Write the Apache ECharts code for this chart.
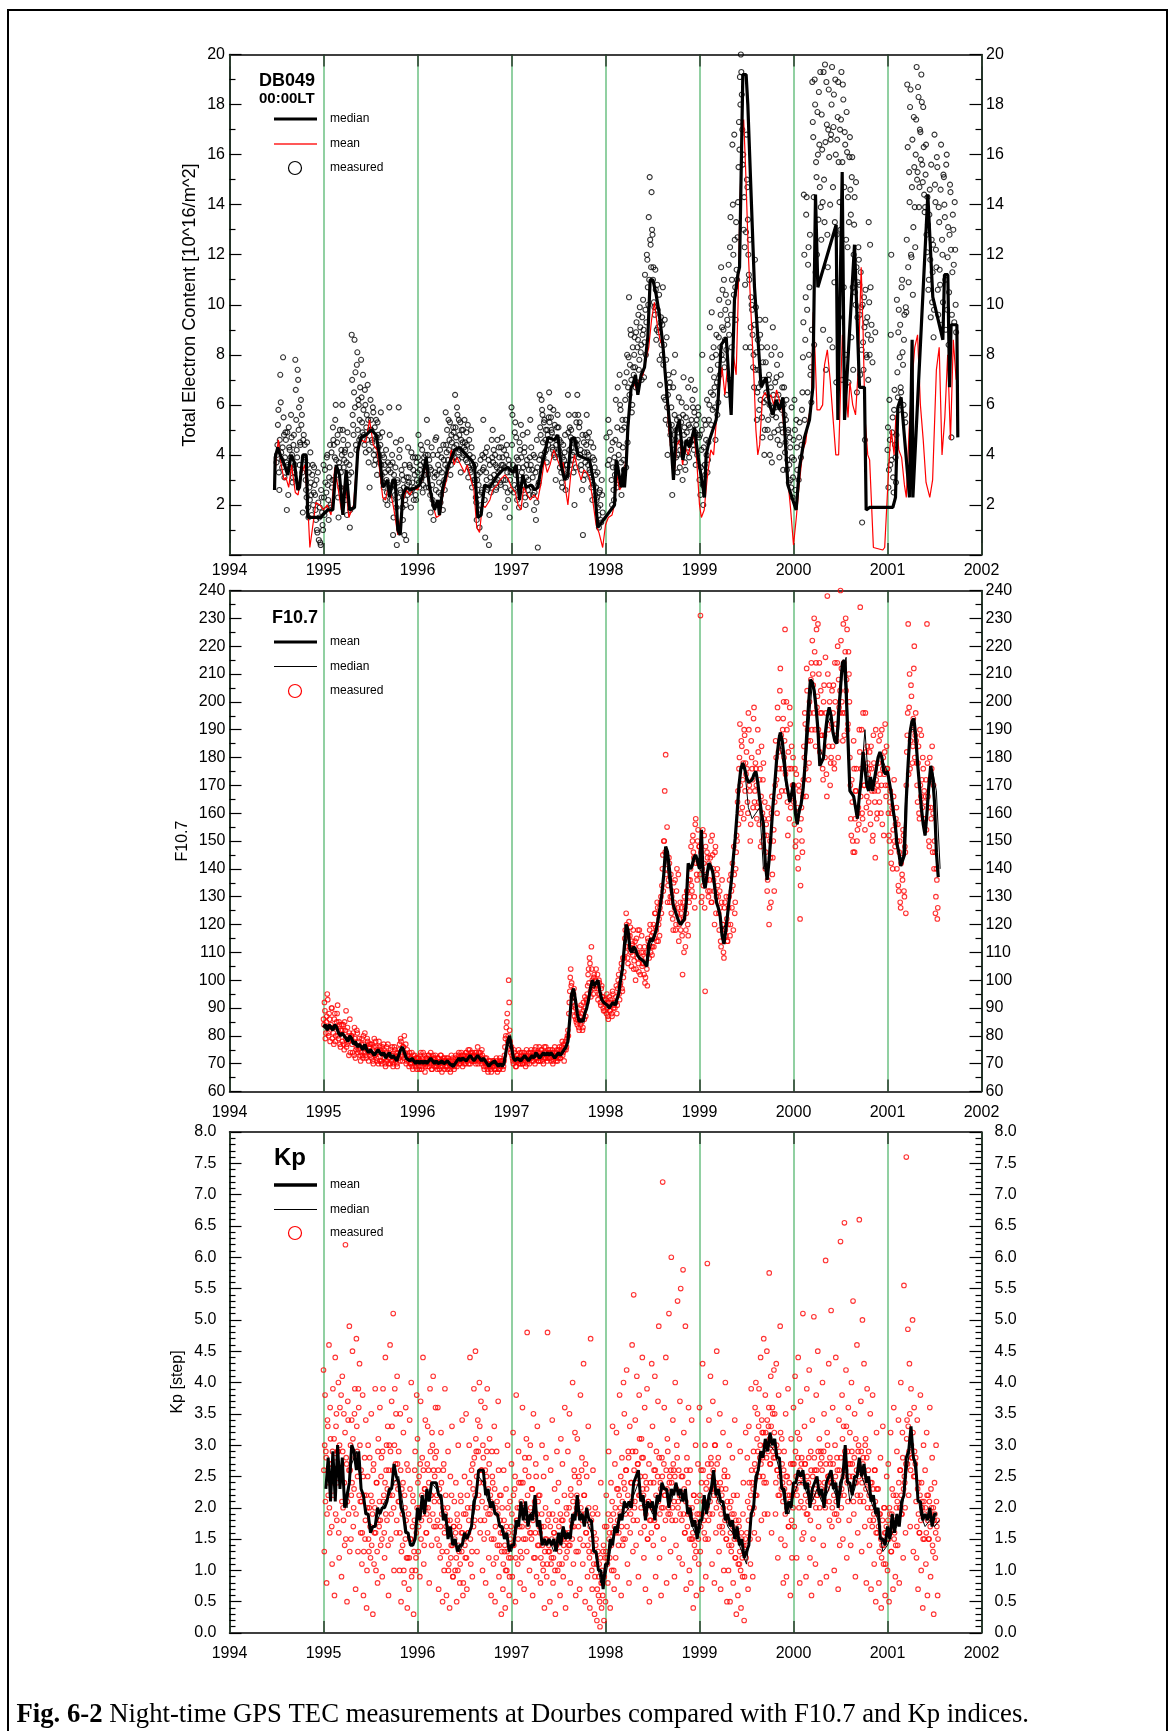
<!DOCTYPE html>
<html>
<head>
<meta charset="utf-8">
<title>Night-time GPS TEC at Dourbes, F10.7 and Kp</title>
<script src="https://cdn.jsdelivr.net/npm/echarts/dist/echarts.min.js"></script>
<style>
  html, body { margin: 0; padding: 0; background: #fff; }
  #chart { width: 1172px; height: 1731px; }
</style>
</head>
<body>
<div id="chart"></div>
<script>
// ---------- tick labels ----------
const yearTicks = [1994, 1995, 1996, 1997, 1998, 1999, 2000, 2001, 2002];
const tecTicks = [0, 20, 2];      // min, max, step
const f107Ticks = [60, 240, 10];
const kpTicks = [0, 8, 0.5];

// ---------- TEC (DB049, 00:00 LT), nightly values, 0.01 yr apart from 1994.5 ----------
const tecStart = 1994.5, tecStep = 0.01;
const tecMeasured = [
  3.7,4.4,5.8,2.6,7.2,4.1,3.5,7.9,4.8,3.9, 4.6,1.8,3.6,5.1,4.2,3.9,4.7,2.9,4.4,3.3,
  7.8,5.4,3.9,7.0,5.9,4.5,6.2,5.6,1.7,4.8, 4.4,3.0,2.3,3.6,1.5,2.7,4.1,2.4,3.2,2.0,
  3.5,2.4,1.4,1.0,3.3,0.6,1.9,0.4,2.3,1.2,
  3.6,1.6,2.9,2.5,4.0,2.2,3.1,4.4,1.9,2.7, 5.1,4.4,3.9,6.0,3.2,4.8,1.5,3.5,2.7,4.2,
  6.0,4.6,3.8,4.2,2.7,1.6,4.4,3.2,1.1,4.0, 8.8,5.6,4.8,8.6,7.3,4.2,8.1,6.2,4.6,6.7,
  7.8,5.3,7.2,4.8,6.6,4.1,5.6,6.8,3.7,2.7, 6.2,5.0,4.5,5.7,3.6,4.2,5.4,3.2,4.8,4.0,
  4.7,5.7,3.2,4.0,2.7,3.6,2.2,3.0,2.0,3.4, 5.9,3.6,2.7,4.0,0.8,3.2,2.4,4.5,0.4,2.9,
  5.9,4.2,2.5,3.4,1.9,3.0,0.8,2.2,0.6,2.8, 4.3,2.9,3.5,1.9,2.6,3.9,2.2,3.2,2.4,3.7,
  3.3,4.8,2.7,3.6,3.0,4.2,2.8,3.9,3.4,2.7, 5.4,4.0,2.7,3.5,1.7,4.3,2.2,1.4,3.1,4.6,
  4.7,2.0,3.6,2.9,4.2,2.4,3.3,1.8,3.8,2.6, 5.7,4.1,3.5,5.4,4.6,3.2,4.8,3.8,5.1,4.3,
  6.4,4.7,5.9,3.8,5.4,4.2,3.3,5.0,4.5,4.0, 5.4,4.2,4.9,3.7,3.1,4.6,3.4,5.0,2.7,3.9,
  3.5,3.0,2.3,1.4,3.2,2.8,1.1,3.8,2.5,4.0, 5.4,3.9,0.7,3.3,4.3,2.7,0.4,3.6,2.5,4.6,
  5.0,4.2,3.0,3.6,2.7,4.6,3.3,3.9,2.9,4.3, 4.7,3.6,4.2,1.9,3.0,4.4,2.5,3.8,1.5,3.3,
  5.9,5.6,3.4,2.8,5.3,4.7,2.2,3.8,1.9,4.2, 5.2,3.3,4.8,2.6,4.3,2.0,3.6,4.9,3.0,2.4,
  5.4,4.3,3.4,2.4,1.8,3.9,1.4,4.6,0.3,2.9, 6.4,4.8,6.2,5.6,3.9,5.4,4.6,4.2,5.0,4.4,
  6.5,5.9,5.5,4.9,4.2,4.0,5.2,3.0,4.6,5.6, 5.1,4.6,4.0,3.3,2.7,4.4,3.8,4.8,3.1,3.6,
  6.4,5.6,5.1,4.7,4.3,4.0,3.3,2.0,4.5,5.3, 6.4,5.6,5.1,4.0,3.6,2.6,0.8,4.5,3.2,4.8,
  5.6,4.7,4.0,3.4,3.1,2.7,2.2,4.3,3.8,2.4, 2.7,2.3,1.9,1.1,2.6,1.4,3.0,1.7,null,null,
  null,4.7,null,5.4,3.8,null,4.2,2.0,3.5,2.2, 3.2,6.2,2.7,6.7,4.0,7.2,5.8,2.4,5.4,3.8,
  5.1,6.2,3.5,8.0,6.7,10.3,7.6,8.8,5.7,8.3, 7.2,8.7,6.7,9.3,8.3,9.6,7.8,9.1,8.4,9.5,
  10.2,7.1,11.2,8.0,12.0,10.7,13.5,15.1,12.4,14.5, 12.8,11.5,9.9,11.4,8.6,10.8,9.1,10.4,6.8,9.5,
  8.0,10.7,6.3,9.4,5.4,8.7,4.0,7.2,6.7,4.8, 5.9,2.4,6.7,4.8,8.0,3.9,5.4,4.0,6.3,3.5,
  4.5,6.1,3.0,7.1,5.1,3.4,5.9,4.5,6.7,3.9, 5.1,7.0,4.6,5.9,4.2,6.6,3.6,5.4,4.8,5.6,
  3.0,2.4,4.2,8.0,2.0,5.4,3.2,4.6,6.2,3.8, 5.4,9.1,6.5,9.7,5.8,8.3,6.7,4.6,8.8,5.6,
  6.1,10.2,8.3,11.5,9.1,7.8,11.0,8.6,10.4,6.4, 9.2,11.6,7.0,13.5,8.3,16.4,12.0,16.8,10.7,13.3,
  11.0,14.1,17.3,19.1,20.0,18.4,15.6,13.0,12.3,8.3, 16.8,14.7,12.0,11.0,8.3,10.3,9.8,7.5,6.7,11.8,
  9.9,5.4,8.6,6.7,9.4,6.2,8.3,4.7,7.0,4.0, 9.4,6.5,8.3,5.4,7.2,4.0,6.7,3.7,9.1,5.9,
  8.3,5.9,7.1,4.6,6.4,3.9,8.0,5.2,6.7,3.4, 6.7,4.1,5.4,3.4,4.9,2.9,4.7,3.0,5.9,2.3,
  4.6,6.2,2.6,5.4,3.4,null,4.7,null,3.9,5.8, 7.9,14.4,5.4,10.3,14.3,6.5,12.3,10.7,7.2,6.1,
  18.9,16.7,8.4,18.0,15.7,12.0,16.0,18.5,14.7,13.9, 17.6,14.1,19.3,13.3,16.5,18.9,12.8,17.0,15.9,14.0,
  16.8,19.5,14.7,18.4,13.3,16.0,12.8,17.5,15.7,14.1, 13.0,19.3,15.7,18.2,14.7,16.4,12.6,16.1,14.3,13.3,
  16.7,13.6,15.1,10.7,12.0,14.3,10.0,11.5,9.5,12.3, 10.8,7.2,9.9,1.3,8.5,10.3,4.6,9.3,7.9,8.8,
  13.3,8.0,10.7,9.2,7.7,null,null,8.9,null,null, null,null,null,null,null,null,null,null,null,null,
  4.2,2.7,6.2,3.6,12.0,4.9,3.1,5.8,4.4,2.9, 10.2,6.3,9.8,7.9,6.7,10.7,8.1,6.0,9.6,5.3,
  9.7,18.8,11.5,15.3,17.9,12.0,14.7,10.4,17.5,13.9, 16.0,19.5,15.3,18.3,14.7,16.9,19.2,15.6,17.9,14.4,
  13.9,16.4,12.1,13.2,11.0,14.6,9.5,12.6,11.3,8.7, 16.8,14.1,11.5,15.5,9.6,13.3,10.8,16.4,12.6,10.1,
  15.1,13.5,9.0,16.0,11.9,8.4,12.8,14.5,4.7,11.3, 13.0,9.3,12.2,8.9
];
// nights in between (offset by half a step)
const tecMeasuredB = [
  4.0,5.2,3.3,4.6,6.1,3.8,4.3,5.5,3.1,4.9, 3.7,4.9,2.4,4.3,3.5,5.6,4.0,3.1,4.8,3.6,
  6.6,4.2,7.4,5.0,3.6,4.4,5.2,3.3,4.6,3.9, 3.8,2.6,4.5,1.9,3.3,2.2,2.9,1.6,3.6,2.5,
  2.8,1.8,3.0,0.9,2.1,1.5,0.5,2.6,1.7,1.0,
  2.3,3.4,1.8,3.9,2.8,1.4,3.5,2.0,4.1,3.0, 4.6,3.0,5.4,3.8,4.5,2.3,3.7,5.0,3.3,4.0,
  5.0,3.5,4.1,2.2,3.7,4.9,2.9,3.6,1.8,3.3, 7.0,5.2,6.5,5.9,4.4,7.6,5.0,6.0,5.4,4.7,
  6.3,4.9,5.8,4.4,6.0,5.1,4.6,5.4,4.2,5.0, 5.4,4.6,5.9,4.0,5.1,3.8,4.7,5.3,4.3,3.7,
  4.4,3.6,4.9,2.9,3.9,3.3,4.2,2.5,3.7,2.8, 4.8,3.3,2.2,3.7,1.5,2.8,3.5,1.9,3.0,2.3,
  3.9,2.6,4.6,3.2,1.4,2.7,3.6,2.0,3.1,2.4, 3.1,3.6,2.5,4.1,2.9,3.4,2.7,3.9,2.2,3.0,
  3.9,2.9,3.4,4.4,3.1,2.5,3.7,3.2,4.0,3.5, 4.5,3.2,3.8,2.4,3.4,2.8,4.0,2.0,3.3,2.6,
  3.2,4.0,2.5,3.4,2.1,3.9,2.8,4.4,3.0,3.6, 4.4,5.0,3.8,4.2,5.3,3.6,4.5,4.0,4.9,3.9,
  5.1,4.4,5.6,4.1,4.8,5.3,4.6,3.9,5.0,4.3, 4.5,3.8,4.4,5.2,3.5,4.0,3.3,4.3,3.6,3.0,
  2.9,3.6,2.1,3.0,1.8,2.4,3.3,2.0,2.6,3.4, 3.5,2.2,4.1,3.0,2.6,3.8,1.6,3.1,2.8,3.9,
  3.7,3.2,4.0,2.6,3.5,3.0,4.3,3.4,2.8,3.6, 3.9,3.0,3.5,2.7,4.0,3.3,2.2,3.6,3.0,2.6,
  4.4,3.6,2.5,4.9,3.2,3.9,2.7,3.5,4.5,3.0, 3.9,2.8,3.5,4.1,2.3,3.1,3.8,2.6,3.4,3.9,
  3.6,2.7,3.1,4.0,2.5,3.3,2.1,3.5,2.8,3.8, 5.1,4.0,5.8,4.5,5.3,4.1,5.0,3.7,4.8,5.5,
  5.3,4.6,5.0,4.3,5.8,4.7,3.9,4.4,5.1,4.1, 4.2,3.5,4.5,2.9,3.9,3.4,4.1,2.6,3.6,3.2,
  4.9,4.2,3.6,5.0,4.6,3.8,4.1,5.6,3.5,4.4, 4.6,3.9,5.3,4.2,3.4,4.8,3.0,4.1,3.7,4.4,
  4.1,3.6,4.9,3.3,4.5,3.0,3.9,2.8,3.5,3.2, 2.2,3.3,1.6,2.5,2.0,1.3,2.4,null,null,null,
  null,null,3.6,null,4.9,null,3.0,4.5,2.6,3.9, 4.6,3.5,5.1,3.0,4.4,6.0,3.7,5.0,4.3,3.4,
  6.9,5.4,7.3,4.5,7.9,6.4,9.0,7.0,6.0,7.5, 8.0,7.5,8.9,6.9,8.6,7.4,9.9,8.1,7.0,8.8,
  9.0,8.5,9.8,9.3,11.8,10.0,11.0,12.6,11.5,13.0, 11.0,10.1,9.6,10.6,9.0,9.8,8.9,7.8,9.3,8.4,
  9.2,7.6,8.4,6.2,7.8,5.9,6.4,5.2,6.9,5.0, 5.2,4.4,7.3,5.6,4.6,5.0,3.3,4.9,5.5,4.2,
  5.3,4.0,5.6,4.8,3.7,5.5,4.9,4.1,5.2,4.6, 4.5,5.4,6.2,4.4,5.7,4.9,5.2,4.0,5.9,4.7,
  4.8,3.5,5.0,2.8,4.3,3.6,5.2,4.0,3.3,4.5, 6.0,7.4,5.2,7.9,6.4,7.1,5.9,8.0,6.9,7.6,
  8.7,7.2,9.6,8.0,10.6,9.0,7.5,9.8,8.2,9.4, 10.1,8.8,12.3,9.6,11.0,14.0,10.4,12.6,9.4,11.4,
  12.7,15.5,16.2,18.0,19.3,17.0,16.0,14.3,10.8,12.9, 15.0,13.4,11.2,12.6,9.1,10.0,8.8,8.0,9.2,7.4,
  8.1,6.5,7.4,5.8,8.8,6.9,5.5,7.7,6.1,5.0, 7.7,6.2,5.0,7.0,6.0,4.7,8.0,5.6,6.4,4.9,
  6.9,5.5,7.6,5.0,6.1,4.4,7.2,5.8,4.9,6.0, 5.6,4.5,6.2,3.8,5.0,3.6,4.3,2.7,3.9,3.1,
  3.8,5.0,null,4.3,null,3.0,5.3,null,4.4,6.5, 9.3,12.0,8.6,13.6,9.8,11.6,8.0,12.8,7.5,9.0,
  17.3,14.3,19.0,11.3,15.1,17.7,13.4,16.4,19.3,12.6, 16.2,9.0,15.0,19.6,7.4,17.2,11.5,18.6,8.6,16.6,
  18.0,8.3,17.1,10.9,19.0,6.9,16.6,18.9,9.5,17.0, 17.4,7.0,18.8,10.7,16.9,8.0,17.7,12.3,6.9,15.9,
  14.6,8.7,15.9,7.4,13.2,10.5,14.9,6.5,10.9,11.8, 9.6,11.3,8.2,10.0,7.4,9.1,10.6,8.0,9.5,7.0,
  10.1,12.4,8.6,null,null,null,null,null,null,null, null,null,null,null,null,null,null,null,null,null,
  5.1,3.4,4.6,8.8,3.8,5.5,2.5,6.6,3.9,4.8, 7.3,8.9,5.8,9.2,6.5,11.0,7.6,8.6,5.6,9.9,
  12.6,16.3,10.9,14.1,18.6,11.9,16.6,13.1,15.5,12.3, 17.4,15.0,18.7,13.9,17.0,15.8,18.1,14.9,16.3,13.7,
  15.2,12.8,14.3,10.6,13.6,11.8,15.6,10.1,12.4,9.8, 14.8,12.2,15.9,10.6,13.9,11.4,14.6,9.2,12.0,15.2,
  14.0,11.0,15.6,9.8,13.1,10.5,14.8,12.2,9.6,13.6, 11.6,14.1,10.0
];

// running median of TEC: [year, TECU]
const tecMedian = [
  [1994.479,2.6],[1994.486,3.9],[1994.514,4.3],[1994.55,3.9],[1994.585,3.6],[1994.62,3.2],[1994.656,4.0],[1994.69,3.7],
  [1994.727,2.6],[1994.745,2.7],[1994.78,4.0],[1994.816,4.0],[1994.833,1.5],[1994.904,1.5],[1994.975,1.5],[1994.993,1.6],
  [1995.046,1.8],[1995.099,1.8],[1995.135,3.6],[1995.17,3.2],[1995.206,1.6],[1995.241,3.4],[1995.277,1.8],[1995.33,1.9],
  [1995.365,4.2],[1995.40,4.7],[1995.454,4.8],[1995.507,5.0],[1995.56,4.8],[1995.596,4.0],[1995.631,2.7],[1995.684,3.0],
  [1995.702,2.3],[1995.738,3.0],[1995.762,3.0],[1995.791,1.0],[1995.816,0.8],[1995.844,2.4],[1995.88,2.7],[1995.933,2.6],
  [1995.986,2.7],[1996.021,2.8],[1996.057,3.2],[1996.092,3.9],[1996.128,2.7],[1996.18,1.8],[1996.216,2.2],[1996.234,1.6],
  [1996.27,2.7],[1996.323,3.5],[1996.394,4.2],[1996.447,4.3],[1996.518,4.0],[1996.571,3.8],[1996.606,3.6],[1996.642,1.5],
  [1996.677,1.6],[1996.713,2.8],[1996.766,2.7],[1996.819,3.0],[1996.855,3.2],[1996.908,3.4],[1996.961,3.5],[1997.014,3.3],
  [1997.05,3.6],[1997.085,2.2],[1997.12,3.2],[1997.156,2.7],[1997.209,2.8],[1997.245,2.6],[1997.28,2.7],[1997.316,3.5],
  [1997.351,4.0],[1997.387,4.7],[1997.457,4.6],[1997.493,4.8],[1997.528,3.6],[1997.564,3.0],[1997.599,3.2],[1997.635,4.6],
  [1997.67,4.7],[1997.706,4.0],[1997.759,3.9],[1997.83,3.8],[1997.865,3.1],[1997.883,2.7],[1997.918,1.1],[1998.096,2.0],
  [1998.113,3.8],[1998.131,3.5],[1998.167,2.7],[1998.191,3.5],[1998.202,2.7],[1998.22,3.6],[1998.238,5.1],[1998.273,6.7],
  [1998.291,6.8],[1998.319,7.2],[1998.344,6.4],[1998.379,7.2],[1998.415,7.5],[1998.45,8.7],[1998.475,11.0],[1998.504,11.0],
  [1998.539,10.4],[1998.574,9.6],[1998.61,8.4],[1998.663,6.0],[1998.688,5.0],[1998.723,3.0],[1998.752,5.0],[1998.787,5.4],
  [1998.823,3.8],[1998.858,4.6],[1998.894,4.3],[1998.947,5.1],[1998.982,4.0],[1999.053,2.3],[1999.071,4.0],[1999.106,4.6],
  [1999.177,5.4],[1999.195,6.0],[1999.23,8.4],[1999.284,8.7],[1999.337,5.6],[1999.372,10.2],[1999.408,11.2],[1999.426,11.5],
  [1999.461,19.2],[1999.496,19.2],[1999.514,18.0],[1999.55,14.3],[1999.585,10.7],[1999.656,6.7],[1999.674,6.7],[1999.709,7.1],
  [1999.745,6.0],[1999.78,5.6],[1999.816,6.2],[1999.851,5.8],[1999.887,6.3],[1999.94,2.8],[2000.028,1.8],[2000.064,3.5],
  [2000.082,3.5],[2000.117,4.7],[2000.17,5.4],[2000.206,6.7],[2000.234,14.4],[2000.259,10.7],[2000.454,13.2],[2000.472,5.4],
  [2000.518,15.3],[2000.543,5.4],[2000.649,12.4],[2000.702,6.7],[2000.755,6.7],[2000.773,1.8],[2000.809,1.9],[2001.057,1.9],
  [2001.085,2.3],[2001.11,5.9],[2001.145,6.3],[2001.234,2.3],[2001.262,8.6],[2001.27,2.3],[2001.429,14.4],[2001.482,10.3],
  [2001.589,8.6],[2001.606,11.2],[2001.642,11.2],[2001.66,6.7],[2001.677,9.2],[2001.738,9.2],[2001.748,4.7]
];

// running mean of TEC: [year, TECU]
const tecMean = [
  [1994.479,3.0],[1994.50,4.0],[1994.52,4.6],[1994.55,3.6],[1994.58,3.0],[1994.60,3.1],[1994.63,2.7],[1994.66,3.6],
  [1994.70,2.5],[1994.73,2.4],[1994.76,3.2],[1994.80,3.6],[1994.83,2.2],[1994.855,0.3],[1994.88,1.0],[1994.92,2.1],
  [1994.96,2.0],[1995.0,1.8],[1995.04,2.0],[1995.08,1.6],[1995.12,3.5],[1995.15,2.8],[1995.19,1.8],[1995.23,3.0],
  [1995.27,1.5],[1995.32,2.0],[1995.36,4.0],[1995.40,4.6],[1995.45,4.5],[1995.49,5.4],[1995.53,4.4],[1995.57,4.2],
  [1995.60,3.3],[1995.63,2.3],[1995.66,2.2],[1995.68,2.6],[1995.72,2.4],[1995.75,1.8],[1995.79,0.8],[1995.82,1.5],
  [1995.85,2.2],[1995.88,2.6],[1995.92,2.4],[1995.96,2.7],[1996.0,2.6],[1996.05,3.0],[1996.09,3.6],[1996.13,2.5],
  [1996.17,1.9],[1996.2,1.5],[1996.24,1.6],[1996.27,2.4],[1996.32,3.2],[1996.36,4.2],[1996.39,3.6],[1996.42,3.9],
  [1996.46,3.6],[1996.5,3.3],[1996.53,3.6],[1996.57,3.0],[1996.6,2.6],[1996.63,1.1],[1996.66,0.9],[1996.69,2.0],
  [1996.72,1.9],[1996.77,2.2],[1996.8,2.6],[1996.85,2.8],[1996.88,3.0],[1996.93,3.2],[1996.97,3.0],[1997.0,2.7],
  [1997.04,2.5],[1997.07,2.0],[1997.1,1.8],[1997.13,2.7],[1997.17,2.4],[1997.2,2.2],[1997.24,2.4],[1997.28,2.2],
  [1997.32,3.0],[1997.35,3.8],[1997.38,3.3],[1997.41,3.6],[1997.45,4.2],[1997.48,3.9],[1997.52,3.5],[1997.55,3.7],
  [1997.58,2.5],[1997.6,2.0],[1997.63,3.2],[1997.67,4.0],[1997.7,3.5],[1997.74,3.0],[1997.77,3.4],[1997.8,3.3],
  [1997.83,3.1],[1997.86,2.3],[1997.9,1.2],[1997.93,0.9],[1997.97,0.3],[1998.0,1.2],[1998.03,1.5],[1998.07,1.6],
  [1998.1,2.1],[1998.12,3.2],[1998.15,2.6],[1998.18,2.8],[1998.21,3.6],[1998.24,5.0],[1998.27,6.6],[1998.3,6.9],
  [1998.33,6.6],[1998.36,7.0],[1998.4,7.2],[1998.43,7.8],[1998.46,8.3],[1998.49,9.4],[1998.52,10.1],[1998.55,9.2],
  [1998.58,8.6],[1998.61,8.3],[1998.64,7.0],[1998.67,5.2],[1998.7,4.0],[1998.73,3.2],[1998.76,4.4],[1998.79,4.6],
  [1998.82,3.6],[1998.85,4.3],[1998.88,4.0],[1998.91,4.5],[1998.94,4.8],[1998.97,3.8],[1999.0,2.0],[1999.02,1.5],
  [1999.05,1.8],[1999.08,3.0],[1999.12,4.2],[1999.15,4.0],[1999.18,5.4],[1999.21,6.6],[1999.24,7.5],[1999.27,6.4],
  [1999.3,7.6],[1999.33,6.2],[1999.36,8.0],[1999.39,7.2],[1999.41,10.0],[1999.43,14.0],[1999.45,16.5],[1999.47,17.4],
  [1999.49,15.5],[1999.52,12.0],[1999.55,9.5],[1999.58,7.0],[1999.6,5.0],[1999.62,4.0],[1999.64,4.4],[1999.67,6.3],
  [1999.7,6.5],[1999.73,6.2],[1999.76,6.4],[1999.79,6.0],[1999.82,6.6],[1999.85,6.2],[1999.88,5.8],[1999.91,4.5],
  [1999.94,3.0],[1999.97,1.8],[2000.0,0.4],[2000.03,1.5],[2000.06,2.8],[2000.08,3.5],[2000.1,4.2],[2000.13,4.5],
  [2000.16,5.5],[2000.19,6.0],[2000.21,9.7],[2000.23,8.0],[2000.25,5.8],[2000.28,5.8],[2000.31,6.0],[2000.33,7.6],
  [2000.36,8.2],[2000.39,7.0],[2000.42,5.5],[2000.45,4.0],[2000.48,4.0],[2000.5,6.5],[2000.52,8.8],[2000.55,7.0],
  [2000.58,5.5],[2000.6,6.9],[2000.63,6.0],[2000.66,5.6],[2000.69,7.5],[2000.72,11.5],[2000.74,9.0],[2000.76,5.5],
  [2000.79,4.0],[2000.81,3.8],[2000.83,3.8],[2000.85,0.3],[2000.95,0.2],[2000.97,0.3],[2001.02,4.0],[2001.04,5.0],
  [2001.07,4.0],[2001.09,5.6],[2001.12,4.2],[2001.15,3.9],[2001.18,2.8],[2001.2,2.3],[2001.23,5.0],[2001.26,6.9],
  [2001.29,8.3],[2001.32,8.8],[2001.35,6.0],[2001.38,4.6],[2001.41,2.9],[2001.45,2.3],[2001.48,3.0],[2001.52,7.4],
  [2001.55,8.3],[2001.58,4.0],[2001.61,5.5],[2001.64,8.0],[2001.67,4.6],[2001.7,8.6],[2001.73,7.0]
];

// ---------- F10.7 solar flux, daily values 0.01 yr apart from 1995.0 ----------
const f107Start = 1995.0, f107Step = 0.01;
const f107Measured = [
  86,92,79,85,95,81,88,78,84,90, 83,77,88,80,85,91,79,84,76,82, 78,84,75,82,89,77,80,73,86,79,
  80,74,78,83,72,76,81,75,79,73, 74,79,72,77,81,73,75,78,71,76, 77,72,75,70,79,73,76,71,74,78,
  71,75,70,74,77,72,69,76,73,70, 74,70,73,76,69,72,75,71,70,74, 72,77,79,74,71,76,80,73,70,75,
  73,69,72,70,74,68,71,73,69,72,
  70,72,68,73,71,69,74,70,67,72, 72,69,73,70,74,68,71,72,69,73, 71,68,72,70,69,73,67,71,70,72,
  69,72,68,71,70,67,73,69,71,68, 70,73,69,72,74,70,71,73,69,72, 73,70,74,71,75,72,70,74,71,73,
  71,74,70,73,76,71,72,74,70,73, 71,68,72,69,70,67,71,69,68,70, 69,71,68,70,72,67,70,68,71,69,
  70,68,71,76,80,85,78,100,82,74,
  76,72,70,74,71,69,73,72,70,74, 71,74,70,73,72,69,75,71,73,70, 72,75,71,74,73,70,76,72,74,71,
  74,71,75,73,70,76,72,74,71,75, 72,75,71,74,70,73,76,72,74,71, 73,76,72,75,78,74,71,77,75,79,
  82,88,96,104,99,92,95,87,90,85, 84,88,82,87,91,85,83,89,94,87, 92,98,104,108,96,112,100,95,102,98,
  104,97,93,100,95,91,98,94,89,92,
  93,88,90,86,94,89,92,87,95,91, 90,94,88,97,102,93,99,106,96,101, 108,118,124,112,106,121,116,110,114,109,
  104,112,100,115,108,106,118,102,110,105, 110,102,99,108,104,115,112,118,110,116, 112,120,115,124,118,128,114,122,126,130,
  134,145,150,168,181,140,128,136,142,130, 124,132,118,128,136,120,140,126,114,122, 118,126,102,122,130,112,124,132,116,128,
  136,148,132,152,144,126,158,138,150,142,
  148,231,128,140,134,152,96,138,146,132, 142,132,150,128,145,136,120,148,130,140, 130,118,126,112,136,120,108,128,116,122,
  114,126,136,120,132,142,118,138,128,146, 150,168,176,192,160,184,172,158,188,178, 182,164,196,170,150,186,176,162,198,168,
  176,158,190,164,172,148,184,160,178,152, 140,156,132,162,120,150,128,166,144,154, 164,186,172,198,182,166,212,188,176,194,
  180,226,168,190,152,176,198,162,184,170,
  170,156,148,174,162,140,168,122,158,150, 166,184,196,176,212,190,172,200,186,214, 222,206,230,190,214,198,228,210,182,204,
  196,176,200,188,216,174,238,190,206,170, 180,204,196,178,214,192,186,220,208,196, 240,212,196,228,188,218,204,226,192,210,
  180,158,172,150,186,146,168,176,154,162, 190,234,176,160,196,170,154,182,166,178, 164,182,156,176,150,188,168,144,172,160,
  168,186,174,160,190,176,152,182,170,184,
  176,160,150,168,142,162,154,172,148,158, 140,156,132,150,126,144,136,152,130,146, 170,188,228,198,176,206,190,184,212,180,
  196,178,164,184,158,170,188,162,176,168, 158,172,228,166,150,180,162,176,146,170, 150,124,140,122
];
// days in between (offset by half a step)
const f107MeasuredB = [
  84,89,81,87,93,80,86,83,90,79, 81,86,78,83,88,80,85,77,82,84, 82,77,85,79,76,83,78,81,74,80,
  77,81,73,79,75,82,74,78,76,71, 77,73,80,74,76,72,79,74,77,73, 74,77,71,76,73,78,72,75,70,76,
  74,71,76,72,75,70,74,71,77,72, 72,75,71,73,70,76,72,74,69,73, 75,71,78,73,76,72,74,77,71,73,
  71,74,70,72,69,73,71,70,72,68,
  72,69,71,74,68,72,70,73,69,71, 70,73,69,72,71,68,73,70,72,69, 69,72,70,68,73,71,69,72,68,71,
  71,69,72,70,68,71,69,72,70,69, 72,70,71,73,70,72,74,71,73,70, 71,74,72,73,70,75,73,71,74,72,
  73,71,74,72,70,74,73,71,75,72, 69,71,70,72,68,70,69,71,67,70, 71,69,70,68,71,70,68,72,69,71,
  71,69,73,79,83,88,80,92,78,75,
  73,71,75,72,69,73,71,75,72,70, 73,70,72,74,71,73,70,72,74,72, 74,72,73,71,75,72,74,73,71,76,
  72,75,73,71,74,72,76,73,72,74, 74,72,73,75,71,74,73,71,75,72, 75,72,74,76,73,77,75,78,76,80,
  80,92,101,98,94,89,97,91,86,88, 86,83,90,84,88,82,92,86,90,93, 95,102,99,106,94,104,98,101,97,100,
  98,102,95,99,92,97,94,90,93,89,
  91,95,87,92,89,93,88,96,90,92, 92,98,91,100,95,98,104,97,108,103, 115,110,120,108,116,112,119,105,113,118,
  107,114,104,110,118,103,112,108,116,106, 106,112,101,110,98,114,108,120,112,109, 117,112,124,119,114,126,120,116,128,124,
  140,132,150,146,138,155,134,144,128,138, 130,122,135,126,118,132,124,138,120,128, 124,116,128,110,126,118,132,120,136,130,
  140,134,150,146,130,156,142,136,154,148,
  138,146,130,154,142,126,148,136,144,130, 136,144,128,152,140,132,146,124,138,134, 124,132,114,128,120,110,126,118,130,114,
  120,130,116,138,126,134,148,124,140,152, 164,156,180,170,186,162,178,190,168,174, 176,160,190,168,156,180,172,194,164,178,
  170,162,182,156,176,166,150,172,158,164, 146,152,136,158,126,144,160,138,150,132, 170,180,160,194,176,204,184,168,190,200,
  186,174,200,164,182,158,192,176,166,180,
  164,176,150,160,144,170,154,134,162,146, 172,180,192,166,204,186,178,196,208,190, 210,196,218,184,226,202,190,214,196,188,
  188,172,206,180,196,166,210,184,200,178, 192,184,206,176,200,188,214,180,198,204, 222,200,186,214,196,230,208,190,218,200,
  170,152,164,146,176,158,168,150,160,156, 182,166,190,158,176,170,196,162,184,174, 176,160,184,168,152,178,164,190,158,170,
  178,164,188,170,156,180,174,192,166,176,
  170,152,164,146,160,140,166,150,156,162, 150,134,146,128,142,138,154,132,148,124, 182,196,174,210,186,202,178,194,220,188,
  186,170,178,160,190,166,172,180,158,164, 166,154,178,162,148,172,158,184,160,140, 146,130,136,126
];

// F10.7 running mean, every 0.02 yr from 1995.0
const f107LineStart = 1995.0, f107MeanStep = 0.02;
const f107Mean = [
  83,84,82,84,83, 82,84,83,81,80, 81,80,79,78,80, 79,77,78,76,77, 76,75,77,75,74,
  75,74,73,74,75, 74,73,74,72,73, 74,72,73,72,71, 73,75,76,74,72, 72,71,72,71,70,
  71,70,71,70,71, 70,71,72,71,70, 71,70,70,71,70, 70,71,70,70,69, 70,71,72,71,72,
  72,71,72,73,72, 71,72,73,72,71, 72,71,70,69,70, 70,71,70,69,70, 69,70,74,78,80,
  76,72,71,72,72, 71,72,73,72,71, 72,73,72,74,73, 72,73,74,73,74, 73,74,73,72,73,
  74,73,74,75,76, 78,86,95,97,93, 88,85,86,85,88, 90,93,97,100,98, 99,100,96,93,92,
  92,91,90,91,92, 91,91,95,100,104, 112,120,118,111,110, 112,111,109,108,108, 107,106,105,113,115,
  114,116,118,122,126, 131,138,148,146,140, 133,127,125,123,121, 120,120,122,128,142, 140,141,144,145,145,
  140,154,136,133,138, 142,141,139,134,128, 126,123,116,113,118, 124,130,136,144,151, 160,170,176,178,176,
  173,171,171,172,174, 175,171,165,160,156, 142,136,143,152,162, 170,179,185,189,186, 180,172,168,164,167,
  171,160,156,161,163, 168,176,188,199,208, 207,204,198,190,177, 177,180,189,195,198, 195,189,186,185,196,
  205,214,215,204,186, 168,167,166,162,158, 166,172,182,182,170, 168,173,168,168,176, 180,182,180,175,174,
  175,171,167,161,157, 149,146,141,141,145, 165,178,189,193,194, 188,178,170,162,156, 152,160,170,177,173,
  164,146,137
];

// F10.7 running median, every 0.04 yr from 1995.0
const f107MedianStep = 0.04;
const f107Median = [
  83,82,83,84,81, 81,79,80,77,76, 76,77,74,74,74, 74,74,73,72,72, 73,76,72,71,71,
  71,71,71,71,71, 71,70,70,71,70, 70,72,72,71,73, 71,73,71,71,69, 70,70,70,70,77,
  75,71,72,72,72, 72,72,73,73,73, 73,73,73,73,75, 78,94,92,85,85, 90,98,97,100,93,
  92,90,92,91,99, 110,117,110,110,108, 107,105,112,116,120, 131,146,134,127,123, 120,122,140,140,145,
  140,138,138,141,135, 126,118,120,130,144, 160,176,176,162,158, 160,162,140,140,150, 170,188,180,170,164,
  171,156,162,172,190, 207,200,183,180,192, 195,186,190,212,216, 168,166,160,172,190, 170,170,174,182,178,
  175,167,158,146,143, 170,190,190,178,160, 152,168,175,168,140
];

// ---------- Kp index, 1/120 yr apart from 1995.0 ----------
const kpStart = 1995.0, kpStep = 1 / 120;
const kpMeasured = [
  4.2,1.3,3.8,2.9,0.8,3.4,2.2,4.6,1.6,3.1,2.7,1.1, 3.9,2.4,0.6,4.4,3.3,1.8,2.9,4.0,1.2,3.6,2.5,0.9,
  4.1,2.0,3.5,1.4,6.2,2.8,0.5,3.7,1.9,4.9,2.6,1.5, 3.4,4.5,1.7,2.3,3.9,0.7,4.7,2.9,1.3,3.6,4.3,2.1,
  2.6,1.1,3.8,0.6,2.2,1.5,3.4,0.4,2.0,3.0,1.3,2.8, 1.2,3.5,2.1,0.3,2.7,1.6,3.9,1.0,2.4,0.8,3.1,1.7,
  3.6,1.4,2.8,0.9,3.9,2.2,1.2,4.4,2.6,1.8,3.3,0.6, 3.0,4.6,1.5,3.7,2.2,5.1,1.0,3.9,2.7,1.6,4.1,2.3,
  2.9,1.0,3.5,0.5,2.3,1.4,3.2,0.8,2.0,3.6,1.2,0.4, 2.6,0.7,3.4,1.5,4.0,1.0,2.2,0.3,1.8,2.9,1.2,3.8,
  3.1,1.3,2.5,0.9,3.7,1.8,2.8,4.4,1.1,2.3,3.4,1.6, 1.9,3.3,2.6,0.8,3.9,2.2,1.4,3.0,4.1,1.7,2.5,3.6,
  2.9,1.5,3.6,0.7,2.3,1.2,3.2,1.9,0.5,2.6,1.0,3.9, 2.2,0.6,1.8,2.9,1.1,0.4,2.5,1.4,3.3,0.9,1.7,2.1,
  1.0,2.4,0.5,1.8,3.0,1.3,0.8,2.2,1.6,3.4,0.6,1.9, 2.5,1.2,3.5,0.7,2.0,1.6,3.0,4.4,1.1,2.6,0.9,2.3,
  3.9,1.8,4.5,2.9,1.3,3.4,2.2,4.0,1.6,3.7,2.6,1.0, 2.8,1.5,3.6,0.8,2.5,3.9,1.9,1.2,3.1,2.2,0.6,2.9,
  2.4,1.1,3.3,0.5,2.0,2.9,1.4,3.7,0.9,2.2,1.6,0.3, 2.0,0.7,2.6,1.3,0.4,2.3,1.0,3.0,1.6,0.6,2.1,1.2,
  2.7,0.9,3.2,1.4,2.3,0.5,3.8,1.8,1.1,2.9,2.0,0.8, 2.4,1.2,3.6,2.0,0.7,2.8,1.5,3.1,4.8,1.7,2.5,1.0,
  3.0,1.6,2.3,0.6,3.5,1.9,1.2,2.7,0.9,3.3,2.1,1.4, 2.2,0.8,1.7,3.0,1.1,2.5,0.4,1.5,2.8,0.9,4.8,1.3,
  1.9,0.5,2.6,1.2,3.4,0.8,1.6,2.3,0.3,1.4,2.9,1.0, 2.4,1.1,0.6,3.1,1.8,2.7,0.9,1.5,3.6,0.4,2.0,1.3,
  2.9,1.4,3.5,0.8,2.2,1.7,4.0,1.1,2.6,3.2,0.6,2.0, 3.1,1.3,2.5,0.7,3.8,1.9,2.8,1.1,4.3,2.2,0.5,1.6,
  2.5,0.9,3.3,1.3,0.4,4.7,1.8,0.7,2.6,1.1,0.3,2.0, 1.5,0.2,1.9,0.6,1.1,0.1,2.4,0.4,0.8,1.3,0.2,1.7,
  0.5,2.2,1.2,0.8,2.9,1.6,0.4,2.4,1.0,3.3,1.9,0.7, 2.7,1.2,3.2,0.9,2.3,1.6,3.8,2.0,0.6,2.8,1.4,4.0,
  3.5,1.5,2.6,4.2,1.1,2.9,0.8,3.3,1.9,2.4,4.6,1.3, 5.4,2.0,3.4,1.4,4.1,2.7,0.9,3.8,2.2,1.6,3.1,4.4,
  2.8,1.2,3.6,0.7,2.4,3.9,1.5,2.1,0.5,3.0,1.8,4.3, 3.3,1.4,2.6,4.1,0.9,2.9,1.7,3.7,4.9,1.2,2.4,0.6,
  2.8,7.2,1.5,3.6,2.2,4.4,0.8,3.1,1.9,5.1,2.5,1.3, 6.0,1.8,3.4,2.6,0.9,4.0,1.4,3.0,5.3,2.1,1.2,3.7,
  5.5,2.5,1.1,5.8,3.2,1.6,4.9,0.7,2.8,1.9,3.6,1.0, 2.6,0.8,3.4,1.5,0.4,2.2,1.2,3.0,0.6,1.9,2.7,1.1,
  3.6,1.3,2.6,0.7,4.3,2.1,1.6,3.0,0.9,2.4,5.9,1.5, 3.4,1.9,4.1,2.7,1.1,3.7,2.3,0.8,3.0,1.6,4.5,2.2,
  2.8,1.3,3.5,0.7,2.3,1.7,3.2,1.0,2.6,4.0,1.5,0.5, 2.5,1.0,3.0,0.5,2.1,1.4,2.8,0.8,1.9,3.4,1.2,0.3,
  2.2,0.6,1.8,1.1,2.9,0.4,1.5,0.9,2.4,0.2,1.3,3.2, 1.4,2.8,0.7,3.3,2.0,1.1,3.9,2.4,0.9,2.9,1.6,3.6,
  4.0,2.2,3.5,1.5,3.9,2.8,4.4,1.8,3.2,2.5,4.7,1.9, 3.8,2.4,4.5,1.9,3.3,5.75,2.7,4.1,1.6,3.6,2.9,4.2,
  3.5,1.9,4.3,2.6,1.2,3.8,2.2,4.9,1.5,3.1,2.4,0.8, 2.9,1.4,3.5,0.9,2.5,3.9,1.7,2.2,0.6,3.1,1.2,2.7,
  3.6,1.7,4.1,2.3,1.2,3.2,4.4,2.0,0.8,3.7,2.7,1.5, 5.1,1.6,3.3,2.7,0.9,3.9,1.9,2.4,4.2,1.2,2.9,0.6,
  3.4,1.5,5.05,2.6,1.1,3.8,2.2,4.5,1.7,3.1,0.8,2.9, 2.8,4.0,1.4,3.5,2.1,5.95,0.9,3.2,2.5,4.3,1.8,2.7,
  5.15,1.7,3.6,2.4,1.0,3.0,4.4,1.9,2.6,0.7,3.4,1.4, 6.25,2.0,3.8,1.5,3.3,6.55,2.6,4.2,1.2,2.9,3.6,1.8,
  3.2,1.4,4.0,2.7,5.3,1.9,3.5,0.9,2.4,4.6,1.6,3.0, 6.6,2.1,3.7,1.3,5.0,2.8,4.3,1.7,3.1,0.8,3.9,2.4,
  2.9,1.4,3.5,0.7,2.4,3.8,1.8,1.1,2.6,0.5,3.2,1.6, 2.3,0.8,1.9,2.8,0.4,1.4,3.3,1.1,2.0,0.6,1.6,2.5,
  1.0,2.7,0.5,1.9,3.2,1.3,2.3,0.7,3.6,1.6,0.9,2.2, 2.9,1.4,3.4,0.8,2.6,4.0,1.9,3.2,1.2,5.55,2.4,1.6,
  7.6,3.4,4.85,2.2,4.3,1.7,3.9,2.8,5.0,1.3,3.6,2.5, 2.8,1.2,3.4,0.7,2.4,1.6,3.8,1.0,2.1,0.4,3.0,1.5,
  2.6,1.1,3.2,0.6,2.2,1.5,3.6,0.9,2.0,2.8,1.3,0.3, 2.4,1.2,3.0,1.7,0.6
];
// days in between (offset by half a step)
const kpMeasuredB = [
  2.6,3.0,2.1,2.8,1.9,3.3,2.4,2.0,3.6,2.7,1.7,2.9, 2.2,3.1,2.8,1.9,3.5,2.4,2.9,1.6,3.0,2.5,3.8,2.1,
  2.9,1.8,2.4,3.2,1.5,2.7,2.1,3.4,2.6,1.3,3.0,2.2, 2.4,3.1,2.0,3.5,2.8,1.9,3.3,2.5,3.9,2.2,3.0,1.6,
  2.1,1.6,2.5,1.3,2.8,1.8,2.2,1.0,2.5,1.5,2.0,1.7, 2.2,1.4,1.9,2.6,1.1,2.0,1.6,2.4,1.3,2.9,1.8,2.1,
  1.8,2.5,1.5,2.9,2.1,1.6,2.4,1.9,3.0,2.3,1.4,2.6, 2.2,2.9,1.9,3.3,2.6,2.0,3.0,2.4,3.5,1.8,2.7,2.1,
  2.1,1.6,2.6,1.3,1.9,2.4,1.0,2.2,1.5,1.8,2.7,1.2, 1.9,1.2,2.3,1.5,0.9,1.7,2.1,1.3,2.6,1.0,1.6,2.0,
  2.4,1.7,2.0,2.7,1.5,2.2,1.9,2.6,1.4,2.3,2.0,1.6, 2.7,2.0,2.4,1.8,2.9,2.2,3.2,1.9,2.6,2.1,2.8,1.7,
  2.2,1.8,2.6,1.4,2.1,1.7,2.4,1.3,2.0,2.7,1.6,1.9, 1.7,1.3,2.0,1.0,1.6,1.8,1.2,2.2,1.4,0.9,1.7,1.5,
  1.6,1.2,1.9,1.0,1.4,1.7,1.1,2.1,1.3,1.6,0.8,1.5, 1.4,1.9,1.2,2.2,1.6,1.8,2.4,1.5,2.0,1.3,2.7,1.7,
  2.8,2.2,3.1,2.5,2.0,2.9,2.4,3.3,1.8,2.6,2.1,3.0, 2.4,1.8,2.6,2.0,2.9,1.6,2.3,2.7,1.9,2.1,1.5,2.5,
  2.0,1.5,2.3,1.7,1.2,2.1,1.9,2.6,1.4,1.8,2.2,1.3, 1.6,1.1,1.8,1.4,1.0,1.7,1.3,2.0,1.2,0.9,1.5,1.7,
  1.9,1.4,2.2,1.6,2.5,1.2,1.8,2.0,1.5,2.4,1.7,1.3, 2.1,1.7,2.4,1.5,2.0,2.6,1.8,1.3,2.2,1.9,2.8,1.6,
  2.0,1.5,2.3,1.8,1.2,2.1,1.6,2.5,1.9,1.4,2.2,1.7, 1.6,1.2,1.9,1.4,1.0,1.7,1.3,2.0,1.5,1.1,1.8,1.4,
  1.3,1.7,1.1,1.5,1.9,1.2,1.6,1.0,1.8,1.4,2.1,1.5, 1.7,1.3,1.9,1.5,1.1,1.8,1.4,2.2,1.6,1.2,1.9,1.5,
  1.6,2.0,1.4,2.3,1.8,1.5,2.1,1.7,2.5,1.9,1.3,2.2, 2.1,1.7,2.4,1.5,2.0,2.6,1.8,1.4,2.2,1.9,2.7,1.6,
  1.8,1.4,2.0,1.2,1.7,1.5,1.0,1.9,1.3,1.6,0.9,1.4, 1.1,0.7,1.3,0.9,0.5,1.2,0.8,1.0,0.6,1.4,0.9,1.2,
  1.3,1.7,1.1,1.9,1.5,1.2,1.8,1.4,2.1,1.6,1.0,1.7, 2.0,1.6,2.3,1.8,1.4,2.2,1.9,2.5,1.7,2.1,1.5,2.4,
  2.3,1.9,2.6,1.7,2.2,2.8,2.0,1.6,2.4,2.1,2.9,1.8, 2.6,2.1,2.9,2.4,1.8,2.7,2.2,3.1,2.5,2.0,2.8,2.3,
  2.2,1.7,2.5,1.9,2.3,1.5,2.1,2.7,1.8,2.4,1.6,2.0, 2.0,2.4,1.8,2.6,2.2,1.7,2.5,2.1,2.8,1.9,2.3,2.0,
  2.5,2.0,2.7,2.2,1.8,2.6,2.3,2.9,2.0,2.4,1.9,2.6, 2.4,2.0,2.7,2.1,2.5,1.8,2.3,2.8,2.0,2.6,2.2,1.9,
  2.2,1.8,2.5,1.9,2.3,1.6,2.1,2.6,1.7,2.4,2.0,1.5, 1.9,1.5,2.0,1.6,2.2,1.4,1.8,1.3,2.1,1.7,1.5,1.9,
  2.2,1.7,2.4,1.9,2.6,1.8,2.1,1.5,2.3,2.0,2.7,1.8, 2.5,2.1,2.8,2.3,1.9,2.6,2.2,3.0,2.4,2.0,2.7,2.3,
  2.1,1.7,2.4,1.9,2.2,1.6,2.0,2.5,1.8,2.3,1.5,2.1, 1.8,1.4,2.0,1.6,1.3,1.9,1.7,2.2,1.5,1.2,1.8,1.6,
  1.5,1.1,1.7,1.3,1.0,1.6,1.2,1.9,1.4,0.9,1.5,1.2, 1.6,2.1,1.8,2.4,1.5,2.2,2.6,1.9,2.3,2.0,2.7,2.2,
  2.6,3.1,2.9,3.3,2.5,3.0,2.7,3.4,2.8,3.2,2.4,3.0, 3.2,2.8,3.4,2.9,3.6,3.1,2.7,3.3,3.0,3.5,2.8,3.2,
  2.8,2.4,3.0,2.6,2.2,2.9,2.5,3.2,2.3,2.7,2.1,2.6, 2.3,1.9,2.5,2.0,2.2,1.7,2.4,2.1,2.7,1.8,2.2,2.0,
  2.7,2.3,2.9,2.5,2.2,2.8,2.4,3.1,2.6,2.1,2.8,2.5, 2.4,2.0,2.7,2.2,1.9,2.5,2.1,2.8,2.3,1.8,2.6,2.2,
  2.5,2.1,2.8,2.3,2.0,2.6,2.2,2.9,2.4,2.0,2.7,2.3, 2.6,2.2,2.9,2.4,2.0,2.7,2.3,3.0,2.5,2.1,2.8,2.4,
  2.4,2.0,2.7,2.2,1.9,2.5,2.1,2.8,2.3,1.8,2.6,2.2, 2.8,2.3,3.1,2.5,2.2,2.9,2.6,3.3,2.4,2.1,2.7,2.5,
  2.7,2.3,2.9,2.5,2.1,2.8,2.4,3.1,2.6,2.2,2.9,2.5, 2.6,2.2,2.9,2.4,2.7,2.1,2.5,3.0,2.3,2.8,2.0,2.6,
  2.2,1.8,2.4,2.0,1.7,2.3,1.9,2.6,2.1,1.6,2.3,1.9, 1.7,1.3,1.9,1.5,1.2,1.8,1.4,2.0,1.6,1.1,1.7,1.5,
  1.8,1.5,2.0,1.6,1.3,1.9,1.7,2.2,1.5,1.8,1.4,2.0, 2.1,1.8,2.4,2.0,2.6,2.2,1.9,2.8,2.3,2.5,2.0,2.7,
  3.1,2.7,3.3,2.9,3.5,2.6,3.0,2.8,3.2,2.5,2.9,2.7, 2.1,1.7,2.3,1.9,1.6,2.2,1.8,2.4,2.0,1.5,2.1,1.9,
  2.0,1.6,2.2,1.8,1.5,2.1,1.7,2.3,1.9,1.4,2.0,1.8, 1.9,1.6,2.1,1.8,1.5
];

// Kp running mean, every 0.025 yr from 1995.025
const kpMeanStart = 1995.025, kpMeanStep = 0.025;
const kpMean = [
  2.3,2.8,2.1,2.9, 2.1,3.0,2.3,2.8, 2.0,2.2,2.4,3.0, 2.9,2.6,2.9,2.3, 2.2,1.9,1.9,1.6,
  1.7,1.7,2.0,1.9, 2.0,2.0,2.1,2.3, 2.3,2.7,2.5,2.4, 2.0,1.9,1.6,1.6, 1.4,1.4,1.5,2.0,
  1.8,2.2,1.9,2.3, 2.1,2.4,2.4,2.4, 2.2,2.2,1.8,1.9, 1.5,1.7,1.4,1.5, 1.3,1.4,1.4,1.6,
  1.5,1.6,1.7,2.1, 2.2,2.6,2.6,2.6, 2.2,2.3,2.0,2.1, 1.9,1.9,1.7,1.7, 1.5,1.6,1.3,1.4,
  1.4,1.8,1.7,2.1, 1.8,2.1,1.7,1.9, 1.8,2.2,1.7,1.8, 1.4,1.5,1.4,1.5, 1.4,1.5,1.3,1.6,
  1.4,1.7,1.5,1.6, 1.5,1.9,1.8,2.2, 1.8,1.9,1.7,2.0, 1.8,1.8,1.3,1.3, 1.0,1.0,0.7,1.1,
  1.1,1.5,1.4,1.7, 1.6,1.9,1.8,2.1, 2.0,2.1,2.0,2.4, 2.5,2.6,2.1,2.2, 1.8,2.1,2.0,2.1,
  1.8,2.2,2.1,2.4, 2.3,2.3,2.0,2.3, 2.2,2.4,2.2,2.3, 2.1,2.3,1.9,2.0, 1.7,1.8,1.5,1.8,
  1.8,2.2,1.9,2.2, 2.3,2.6,2.2,2.3, 2.1,2.1,1.8,1.9, 1.7,1.8,1.5,1.7, 1.4,1.5,1.2,1.3,
  1.4,1.9,2.0,2.5, 2.6,2.9,2.8,3.1, 2.9,3.2,3.0,3.1, 2.8,2.8,2.3,2.3, 1.9,2.1,2.0,2.4,
  2.4,2.6,2.5,2.6, 2.3,2.4,2.0,2.3, 2.4,2.5,2.2,2.3, 2.0,2.4,2.5,2.6, 2.3,2.4,2.0,2.4,
  2.5,3.0,2.4,2.4, 2.2,2.5,2.5,2.8, 2.5,2.7,2.4,2.5, 2.1,2.2,1.9,2.0, 1.5,1.5,1.4,1.7,
  1.5,1.9,1.6,1.9, 1.7,2.1,2.2,2.8, 2.9,3.3,2.8,2.7, 2.1,2.1,1.8,1.9, 1.8,2.0,1.7,1.9,
  1.9
];

// Kp running median, every 0.05 yr from 1995.05
const kpMedianStart = 1995.05, kpMedianStep = 0.05;
const kpMedian = [
  2.5,2.6, 2.7,2.5, 2.0,2.7, 2.9,2.3, 2.0,1.7, 1.7,1.9, 2.1,2.2, 2.4,2.5, 2.0,1.5, 1.4,1.8,
  2.0,2.1, 2.4,2.3, 2.1,1.8, 1.6,1.4, 1.3,1.5, 1.6,1.9, 2.5,2.4, 2.1,2.0, 1.9,1.6, 1.5,1.3,
  1.6,2.0, 1.8,1.9, 2.0,1.6, 1.4,1.5, 1.3,1.5, 1.7,1.5, 1.7,2.0, 1.9,1.8, 1.6,1.2, 0.8,0.9,
  1.3,1.6, 1.9,1.9, 2.0,2.2, 2.4,2.0, 2.1,1.9, 2.0,2.3, 2.3,2.1, 2.4,2.1, 2.2,1.8, 1.6,1.6,
  2.0,2.0, 2.4,2.1, 2.0,1.7, 1.6,1.5, 1.3,1.1, 1.8,2.3, 2.8,2.9, 3.0,2.9, 2.6,2.1, 1.9,2.2,
  2.4,2.4, 2.2,2.1, 2.3,2.1, 2.2,2.4, 2.2,2.2, 2.7,2.1, 2.3,2.6, 2.4,2.2, 2.0,1.8, 1.3,1.4,
  1.6,1.7, 1.9,2.5, 3.1,2.5, 1.9,1.7, 1.8,1.7, 1.8
];

// ---------- helpers ----------
function regular(start, step, values) {
  const out = [];
  values.forEach((v, i) => { if (v !== null) out.push([+(start + i * step).toFixed(5), v]); });
  return out;
}
// two interleaved sampling sets merged into one point list
function interleaved(start, step, a, b) {
  return regular(start, step, a).concat(regular(start + step / 2, step, b));
}

const FONT = '"Liberation Sans", Arial, Helvetica, sans-serif';
const SERIF = '"Liberation Serif", "Times New Roman", Times, serif';
const GREEN = '#6cc083';

const grids = [
  { left: 229.5, top: 54.5, width: 752, height: 500.5 },
  { left: 229.5, top: 590.5, width: 752, height: 501 },
  { left: 229.5, top: 1132, width: 752, height: 501 }
];

function xAxes(gi, labelMargin) {
  const base = {
    type: 'value', gridIndex: gi, min: yearTicks[0], max: yearTicks[yearTicks.length - 1], interval: 1,
    axisLine: { show: true, onZero: false, lineStyle: { color: '#000', width: 1.5 } },
    axisTick: { show: true, inside: true, length: 12, lineStyle: { color: '#2e3f31', width: 1.5 } }
  };
  return [
    Object.assign({}, base, {
      position: 'bottom',
      axisLabel: { show: true, margin: labelMargin, color: '#000', fontSize: 16, fontFamily: FONT, formatter: v => String(v) },
      splitLine: { show: true, lineStyle: { color: GREEN, width: 1.5 } }
    }),
    Object.assign({}, base, { position: 'top', axisLabel: { show: false }, splitLine: { show: false } })
  ];
}

function yAxes(gi, ticks, minorSplit, labelMargin, fmt) {
  const make = pos => ({
    type: 'value', gridIndex: gi, position: pos, min: ticks[0], max: ticks[1], interval: ticks[2],
    axisLine: { show: true, onZero: false, lineStyle: { color: '#000', width: 1.5 } },
    axisTick: { show: true, inside: true, length: 12, lineStyle: { color: '#000', width: 1.2 } },
    minorTick: { show: true, splitNumber: minorSplit, length: 6, lineStyle: { color: '#000', width: 1.2 } },
    axisLabel: { show: true, margin: labelMargin, color: '#000', fontSize: 16, fontFamily: FONT, formatter: fmt },
    splitLine: { show: false }
  });
  return [make('left'), make('right')];
}

const emptyCircle = (color, size) => ({
  type: 'scatter', symbol: 'circle', symbolSize: size, silent: true, progressive: 0, large: false,
  itemStyle: { color: 'rgba(0,0,0,0)', borderColor: color, borderWidth: 1.1 }
});

const series = [
  // TEC panel
  Object.assign(emptyCircle('#000', 5), { xAxisIndex: 0, yAxisIndex: 0, z: 2, data: interleaved(tecStart, tecStep, tecMeasured, tecMeasuredB) }),
  { type: 'line', xAxisIndex: 0, yAxisIndex: 0, z: 3, data: tecMean, symbol: 'none', lineStyle: { color: '#ff0000', width: 1.2 } },
  { type: 'line', xAxisIndex: 0, yAxisIndex: 0, z: 4, data: tecMedian, symbol: 'none', lineStyle: { color: '#000', width: 3.2 } },
  // F10.7 panel
  Object.assign(emptyCircle('#ff0000', 4.6), { xAxisIndex: 2, yAxisIndex: 2, z: 2, data: interleaved(f107Start, f107Step, f107Measured, f107MeasuredB) }),
  { type: 'line', xAxisIndex: 2, yAxisIndex: 2, z: 3, data: regular(f107LineStart, f107MeanStep, f107Mean), symbol: 'none', lineStyle: { color: '#000', width: 3.2 } },
  { type: 'line', xAxisIndex: 2, yAxisIndex: 2, z: 4, data: regular(f107LineStart, f107MedianStep, f107Median), symbol: 'none', lineStyle: { color: '#000', width: 1 } },
  // Kp panel
  Object.assign(emptyCircle('#ff0000', 4.6), { xAxisIndex: 4, yAxisIndex: 4, z: 2, data: interleaved(kpStart, kpStep, kpMeasured, kpMeasuredB) }),
  { type: 'line', xAxisIndex: 4, yAxisIndex: 4, z: 3, data: regular(kpMeanStart, kpMeanStep, kpMean), symbol: 'none', lineStyle: { color: '#000', width: 3 } },
  { type: 'line', xAxisIndex: 4, yAxisIndex: 4, z: 4, data: regular(kpMedianStart, kpMedianStep, kpMedian), symbol: 'none', lineStyle: { color: '#000', width: 1 } }
];

// legend blocks, panel names, axis titles, caption and frame
function legendBlock(x, ys, items) {
  const els = [];
  items.forEach((it, k) => {
    const y = ys[k];
    if (it.kind === 'line') {
      els.push({ type: 'line', shape: { x1: x, y1: y, x2: x + 43, y2: y }, style: { stroke: it.color, lineWidth: it.width } });
    } else {
      els.push({ type: 'circle', shape: { cx: x + 21, cy: y, r: 6.5 }, style: { fill: 'none', stroke: it.color, lineWidth: 1.2 } });
    }
    els.push({ type: 'text', style: { text: it.label, x: x + 56, y: y, font: '12px ' + FONT, fill: '#000', textVerticalAlign: 'middle' } });
  });
  return els;
}

const graphic = [
  { type: 'rect', shape: { x: 8, y: 10, width: 1159, height: 1760 }, style: { fill: 'none', stroke: '#000', lineWidth: 2 } },
  { type: 'text', style: { text: 'DB049', x: 259, y: 81, font: 'bold 18px ' + FONT, fill: '#000', textVerticalAlign: 'middle' } },
  { type: 'text', style: { text: '00:00LT', x: 259, y: 98.5, font: 'bold 15px ' + FONT, fill: '#000', textVerticalAlign: 'middle' } },
  ...legendBlock(274, [119, 144, 168], [
    { kind: 'line', color: '#000', width: 3, label: 'median' },
    { kind: 'line', color: '#ff2020', width: 1.5, label: 'mean' },
    { kind: 'circle', color: '#000', label: 'measured' }
  ]),
  { type: 'text', style: { text: 'F10.7', x: 272, y: 618, font: 'bold 18px ' + FONT, fill: '#000', textVerticalAlign: 'middle' } },
  ...legendBlock(274, [642, 666.5, 691], [
    { kind: 'line', color: '#000', width: 3, label: 'mean' },
    { kind: 'line', color: '#000', width: 1.2, label: 'median' },
    { kind: 'circle', color: '#ff0000', label: 'measured' }
  ]),
  { type: 'text', style: { text: 'Kp', x: 274, y: 1158, font: 'bold 24px ' + FONT, fill: '#000', textVerticalAlign: 'middle' } },
  ...legendBlock(274, [1185, 1209.5, 1233], [
    { kind: 'line', color: '#000', width: 3.5, label: 'mean' },
    { kind: 'line', color: '#000', width: 1.2, label: 'median' },
    { kind: 'circle', color: '#ff0000', label: 'measured' }
  ]),
  { type: 'text', x: 190, y: 305, rotation: Math.PI / 2,
    style: { text: 'Total Electron Content [10^16/m^2]', font: '18.3px ' + FONT, fill: '#000', textAlign: 'center', textVerticalAlign: 'middle' } },
  { type: 'text', x: 183, y: 841, rotation: Math.PI / 2,
    style: { text: 'F10.7', font: '16px ' + FONT, fill: '#000', textAlign: 'center', textVerticalAlign: 'middle' } },
  { type: 'text', x: 178, y: 1382, rotation: Math.PI / 2,
    style: { text: 'Kp [step]', font: '16px ' + FONT, fill: '#000', textAlign: 'center', textVerticalAlign: 'middle' } },
  { type: 'text', style: {
      text: '{b|Fig. 6-2} Night-time GPS TEC measurements at Dourbes compared with F10.7 and Kp indices.',
      x: 16.5, y: 1715, font: '26.7px ' + SERIF, fill: '#000', textVerticalAlign: 'middle',
      rich: { b: { font: 'bold 26.7px ' + SERIF, fill: '#000' } }
  } }
];

const chart = echarts.init(document.getElementById('chart'), null, { renderer: 'canvas', width: 1172, height: 1731 });
chart.setOption({
  animation: false,
  backgroundColor: '#fff',
  grid: grids.map(g => Object.assign({ containLabel: false, outerBoundsMode: 'none' }, g)),
  xAxis: [...xAxes(0, 8), ...xAxes(1, 13), ...xAxes(2, 13)],
  yAxis: [
    ...yAxes(0, tecTicks, 2, 4.5, v => (v === 0 ? '' : String(v))),
    ...yAxes(1, f107Ticks, 2, 4, v => String(v)),
    ...yAxes(2, kpTicks, 5, 13, v => v.toFixed(1))
  ],
  series: series,
  graphic: graphic
});
</script>
</body>
</html>
